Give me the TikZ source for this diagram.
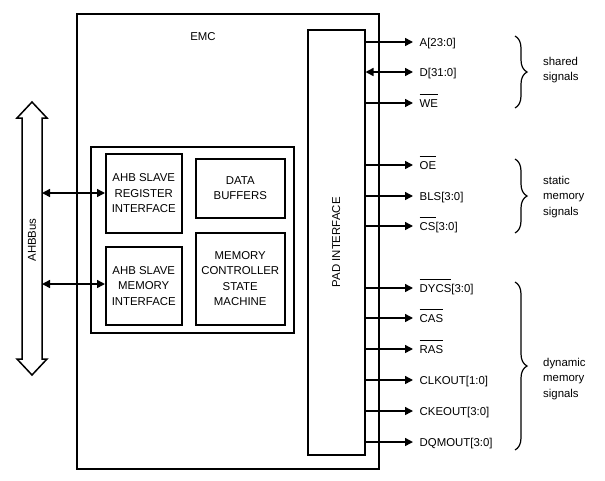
\documentclass[tikz,border=0pt]{standalone}
\usepackage{fontspec}
\setmainfont{Liberation Sans}
\usetikzlibrary{arrows.meta,decorations.pathreplacing}
\newsavebox\ovbox
\newcommand\ovl[1]{\sbox\ovbox{#1}\rlap{\rule[12pt]{\wd\ovbox}{1.2pt}}\usebox\ovbox}
\begin{document}
\begin{tikzpicture}[x=1pt,y=-1pt,
  every node/.style={font=\fontsize{11.4}{15.5}\selectfont},
  blk/.style={draw,line width=1.5pt,anchor=north west,inner sep=0pt,align=center},
  sig/.style={anchor=west,inner ysep=0pt,inner xsep=6.5pt,text height=8.2pt,text depth=0pt},
  grp/.style={anchor=west,align=left,inner sep=0pt},
  arr/.style={line width=1.5pt,-{Triangle[length=8pt,width=8pt]}},
  arrb/.style={line width=1.5pt,{Triangle[length=8pt,width=8pt]}-{Triangle[length=8pt,width=8pt]}},
  brc/.style={line width=1.2pt,decorate,decoration={brace,amplitude=12pt}}
]
\useasboundingbox (0,0) rectangle (605,480);
% main boxes
\node[blk,minimum width=302pt,minimum height=455pt] (emc) at (76,13) {};
\node (emct) at (203,37) {EMC};
\node[blk,minimum width=57pt,minimum height=425pt] (pad) at (307,29) {};
\node[rotate=90] (padt) at (pad.center) {PAD INTERFACE};
\node[blk,minimum width=203pt,minimum height=186pt] (inner) at (90,146) {};
\node[blk,minimum width=76pt,minimum height=79pt] (reg) at (105,153) {AHB SLAVE\\REGISTER\\INTERFACE};
\node[blk,minimum width=89pt,minimum height=59pt] (data) at (195,158) {DATA\\BUFFERS};
\node[blk,minimum width=76pt,minimum height=78pt] (mem) at (105,246) {AHB SLAVE\\MEMORY\\INTERFACE};
\node[blk,minimum width=89pt,minimum height=92pt] (mc) at (195,232) {MEMORY\\CONTROLLER\\STATE\\MACHINE};
% AHB bus
\draw[line width=1.5pt,line join=miter] (32,102) -- (47,118) -- (42,118) -- (42,359) -- (47,359) -- (32,375)
  -- (17,359) -- (22,359) -- (22,118) -- (17,118) -- cycle;
\node[rotate=90] (bust) at (32,240) {AHBBus};
\coordinate (b1) at (42,193);
\coordinate (b2) at (42,284);
\draw[arrb] (b1) -- (b1 -| reg.west);
\draw[arrb] (b2) -- (b2 -| mem.west);
% signals
\node[sig] (sA) at (413,42) {A[23:0]};
\node[sig] (sD) at (413,72) {D[31:0]};
\node[sig] (sWE) at (413,103) {\ovl{WE}};
\node[sig] (sOE) at (413,165) {\ovl{OE}};
\node[sig] (sBLS) at (413,196) {BLS[3:0]};
\node[sig] (sCS) at (413,226) {\ovl{CS}[3:0]};
\node[sig] (sDY) at (413,288) {\ovl{DYCS}[3:0]};
\node[sig] (sCAS) at (413,318) {\ovl{CAS}};
\node[sig] (sRAS) at (413,349) {\ovl{RAS}};
\node[sig] (sCLK) at (413,380) {CLKOUT[1:0]};
\node[sig] (sCKE) at (413,411) {CKEOUT[3:0]};
\node[sig] (sDQM) at (413,442) {DQMOUT[3:0]};
\draw[arr] (pad.east |- sA.west) -- (sA.west);
\draw[arrb] (pad.east |- sD.west) -- (sD.west);
\foreach \s in {sWE,sOE,sBLS,sCS,sDY,sCAS,sRAS,sCLK,sCKE,sDQM}
  \draw[arr] (pad.east |- \s.west) -- (\s.west);
% braces
\draw[brc] (515,36) -- (515,108);
\draw[brc] (515,159) -- (515,233);
\draw[brc] (515,282) -- (515,450);
\node[grp] (g1) at (543,70) {shared\\signals};
\node[grp] (g2) at (543,197) {static\\memory\\signals};
\node[grp] (g3) at (543,379) {dynamic\\memory\\signals};
\end{tikzpicture}
\end{document}
